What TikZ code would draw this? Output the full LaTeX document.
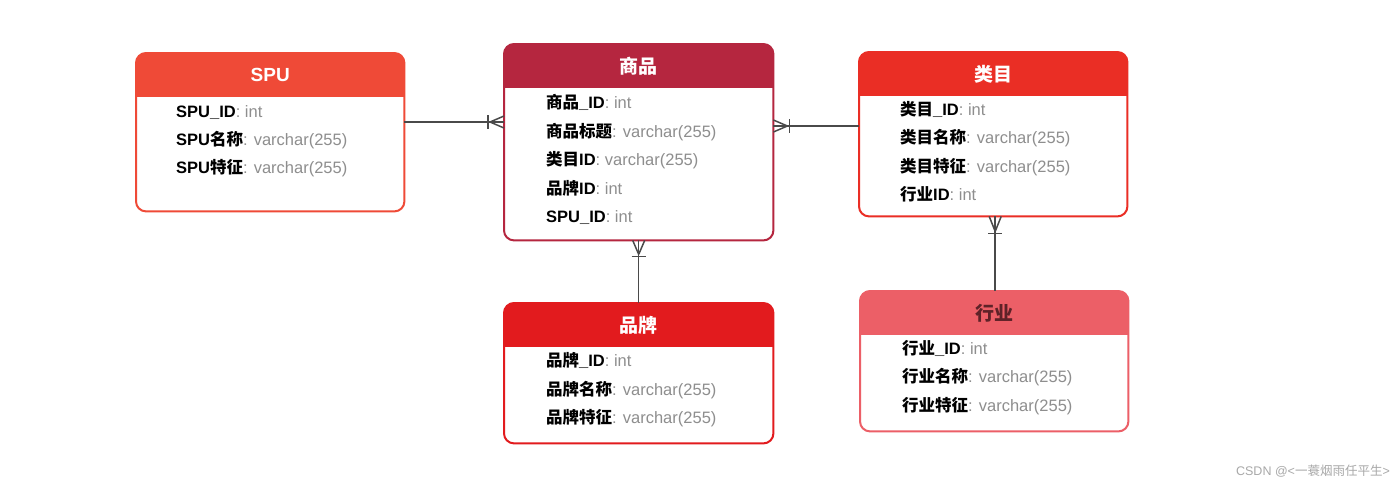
\documentclass[tikz,border=0pt]{standalone}
\usepackage{fontspec}
\setmainfont{Liberation Sans}
\newfontfamily\cjk{Noto Sans CJK SC}
\usetikzlibrary{calc}
\definecolor{cSPU}{HTML}{EF4A37}
\definecolor{cGoods}{HTML}{B5263F}
\definecolor{cCat}{HTML}{EA2E25}
\definecolor{cBrand}{HTML}{E21B1E}
\definecolor{cInd}{HTML}{EC5F67}
\definecolor{cIndTitle}{HTML}{5E2228}
\definecolor{typegray}{HTML}{8E8E8E}
\definecolor{linegray}{HTML}{4A4A4A}
\definecolor{wmgray}{HTML}{A8A8A8}
\tikzset{
  ebox/.style={rectangle, inner sep=0pt, fill=white},
  etitle/.style={font=\fontsize{19}{22}\selectfont\bfseries, inner sep=0pt},
  field/.style={anchor=base west, inner sep=0pt, font=\fontsize{16.5}{19}\selectfont},
  rel/.style={draw=linegray, line width=1.5pt},
}
\newcommand\entity[8]{%
  \node[ebox, minimum width=#5pt, minimum height=#6pt, anchor=north west] (#1) at (#3,#4) {};
  \begin{scope}
    \clip[rounded corners=10pt] (#1.north west) rectangle (#1.south east);
    \fill[#2] (#1.north west) rectangle ([yshift=-44pt]#1.north east);
  \end{scope}
  \draw[#2, line width=2pt, rounded corners=10pt] (#1.north west) rectangle (#1.south east);
  \node[etitle, text=#8] (#1-t) at ([yshift=-22pt]#1.north) {#7};
}
\newcommand\fld[4]{\node[field] (#1) at (#2,#3+6) {#4};}
\newcommand\ty[1]{{\mdseries\color{typegray}: #1}}
\begin{document}
\begin{tikzpicture}[x=1pt,y=-1pt]
\useasboundingbox[fill=white] (0,0) rectangle (1400,485);

\entity{spu}{cSPU}{136}{53}{268}{158}{SPU}{white}
\entity{goods}{cGoods}{504}{44}{269}{196}{\cjk\bfseries 商品}{white}
\entity{cat}{cCat}{859}{52}{268}{164}{\cjk\bfseries 类目}{white}
\entity{brand}{cBrand}{504}{303}{269}{140}{\cjk\bfseries 品牌}{white}
\entity{ind}{cInd}{860}{291}{268}{140}{\cjk\bfseries 行业}{cIndTitle}

% SPU fields
\fld{spu1}{176}{111}{\bfseries SPU\_ID\ty{int}}
\fld{spu2}{176}{139}{\bfseries SPU{\cjk 名称}\ty{varchar(255)}}
\fld{spu3}{176}{167}{\bfseries SPU{\cjk 特征}\ty{varchar(255)}}
% goods fields
\fld{g1}{546}{102}{\bfseries {\cjk 商品}\_ID\ty{int}}
\fld{g2}{546}{131}{\bfseries {\cjk 商品标题}\ty{varchar(255)}}
\fld{g3}{546}{159}{\bfseries {\cjk 类目}ID\ty{varchar(255)}}
\fld{g4}{546}{188}{\bfseries {\cjk 品牌}ID\ty{int}}
\fld{g5}{546}{216}{\bfseries SPU\_ID\ty{int}}
% category fields
\fld{c1}{900}{109}{\bfseries {\cjk 类目}\_ID\ty{int}}
\fld{c2}{900}{137}{\bfseries {\cjk 类目名称}\ty{varchar(255)}}
\fld{c3}{900}{166}{\bfseries {\cjk 类目特征}\ty{varchar(255)}}
\fld{c4}{900}{194}{\bfseries {\cjk 行业}ID\ty{int}}
% brand fields
\fld{b1}{546}{360}{\bfseries {\cjk 品牌}\_ID\ty{int}}
\fld{b2}{546}{389}{\bfseries {\cjk 品牌名称}\ty{varchar(255)}}
\fld{b3}{546}{417}{\bfseries {\cjk 品牌特征}\ty{varchar(255)}}
% industry fields
\fld{i1}{902}{348}{\bfseries {\cjk 行业}\_ID\ty{int}}
\fld{i2}{902}{376}{\bfseries {\cjk 行业名称}\ty{varchar(255)}}
\fld{i3}{902}{405}{\bfseries {\cjk 行业特征}\ty{varchar(255)}}

% SPU -- goods
\coordinate (e1) at (goods.west|-0,122);
\draw[rel] (spu.east|-0,122) -- (e1);
\draw[rel] ($(e1)+(-14,0)$) -- ($(e1)+(0,-6)$) ($(e1)+(-14,0)$) -- ($(e1)+(0,6)$);
\draw[rel] ($(e1)+(-16,-7)$) -- ($(e1)+(-16,7)$);
% goods -- category
\coordinate (e2) at (goods.east|-0,126);
\draw[rel] (e2) -- (cat.west|-0,126);
\draw[rel] ($(e2)+(14,0)$) -- ($(e2)+(0,-6)$) ($(e2)+(14,0)$) -- ($(e2)+(0,6)$);
\draw[rel] ($(e2)+(16,-7)$) -- ($(e2)+(16,7)$);
% goods -- brand
\coordinate (e3) at (goods.south);
\draw[rel] (e3) -- (brand.north);
\draw[rel] ($(e3)+(0,14)$) -- ($(e3)+(-6,0)$) ($(e3)+(0,14)$) -- ($(e3)+(6,0)$);
\draw[rel] ($(e3)+(-7,16)$) -- ($(e3)+(7,16)$);
% category -- industry
\coordinate (e4) at ([xshift=2pt]cat.south);
\draw[rel] (e4) -- (e4|-ind.north);
\draw[rel] ($(e4)+(0,15)$) -- ($(e4)+(-6,0)$) ($(e4)+(0,15)$) -- ($(e4)+(6,0)$);
\draw[rel] ($(e4)+(-7,17)$) -- ($(e4)+(7,17)$);

% watermark
\node[anchor=east, inner sep=0pt, text=wmgray, font=\fontsize{12.5}{14}\selectfont] (wm) at (1390,471) {CSDN @<{\cjk 一蓑烟雨任平生}>};
\end{tikzpicture}
\end{document}
